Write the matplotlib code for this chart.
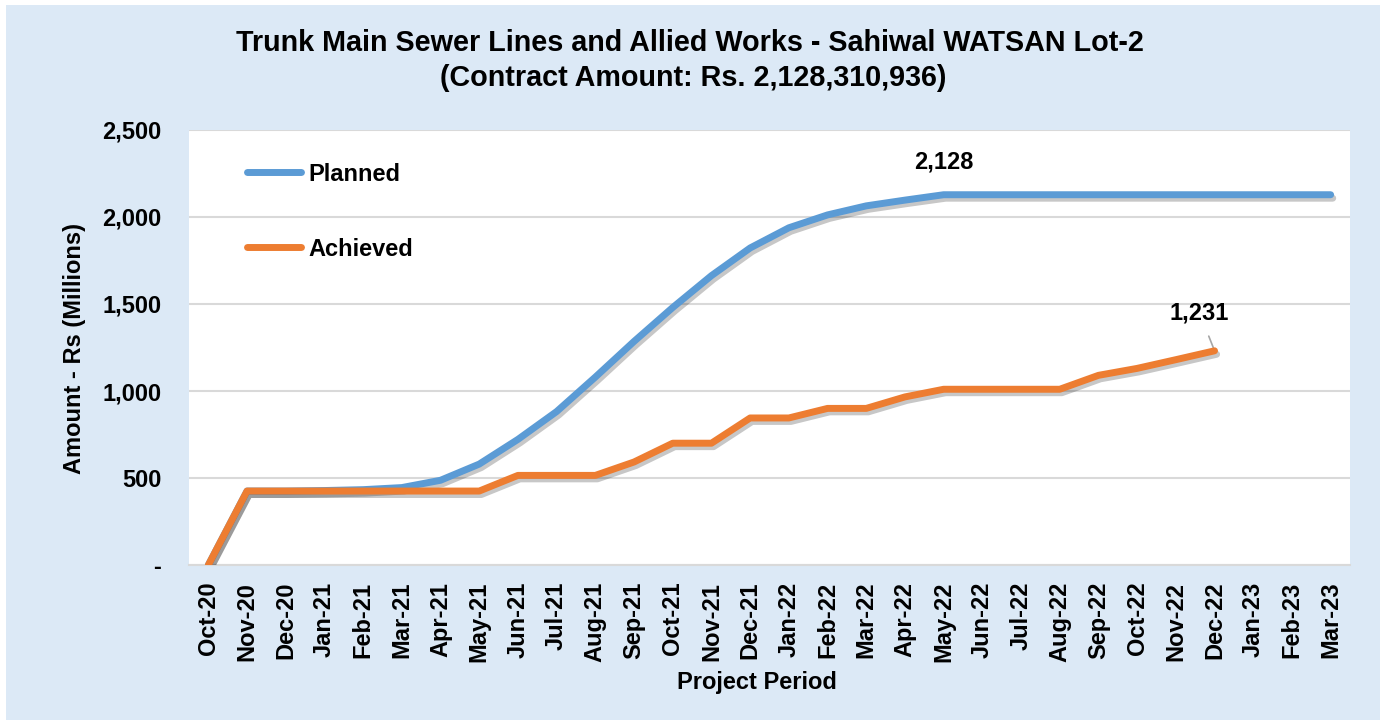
import matplotlib
matplotlib.use("Agg")
import matplotlib.pyplot as plt
import matplotlib.patheffects as pe
from matplotlib.patches import Rectangle
from matplotlib.ticker import FuncFormatter

# Chart data (Rs millions).
months = [
    "Oct-20", "Nov-20", "Dec-20", "Jan-21", "Feb-21", "Mar-21", "Apr-21",
    "May-21", "Jun-21", "Jul-21", "Aug-21", "Sep-21", "Oct-21", "Nov-21",
    "Dec-21", "Jan-22", "Feb-22", "Mar-22", "Apr-22", "May-22", "Jun-22",
    "Jul-22", "Aug-22", "Sep-22", "Oct-22", "Nov-22", "Dec-22", "Jan-23",
    "Feb-23", "Mar-23",
]
planned = [
    0, 425, 425, 428, 433, 445, 487, 580, 722, 882, 1080, 1285, 1480, 1663,
    1822, 1938, 2012, 2064, 2097, 2128, 2128, 2128, 2128, 2128, 2128, 2128,
    2128, 2128, 2128, 2128,
]
achieved = [
    0, 425, 425, 425, 425, 425, 425, 425, 515, 515, 515, 592, 700, 700,
    845, 845, 900, 900, 966, 1010, 1010, 1010, 1010, 1090, 1130, 1180, 1231,
]
y_ticks = [0, 500, 1000, 1500, 2000, 2500]

plt.rcParams["font.family"] = ["Liberation Sans", "DejaVu Sans"]
plt.rcParams["font.weight"] = "bold"

W, H = 1385, 725
fig = plt.figure(figsize=(W / 100, H / 100), dpi=100)
fig.patch.set_facecolor("white")

# light blue page background
fig.patches.append(Rectangle((6 / W, 1 - 720 / H), (1380 - 6) / W, (720 - 5) / H,
                             transform=fig.transFigure, facecolor="#dce9f6",
                             edgecolor="none", zorder=-10))

ax = fig.add_axes([189 / W, 1 - 565 / H, (1350 - 189) / W, (565 - 130) / H])
ax.set_facecolor("white")

x = list(range(len(months)))
shadow = [pe.SimpleLineShadow(offset=(1.5, -2.5), shadow_color="black", alpha=0.22),
          pe.Normal()]

ax.plot(x, planned, color="#5b9bd5", linewidth=5, solid_capstyle="round",
        solid_joinstyle="round", label="Planned", path_effects=shadow, zorder=3)
ax.plot(x[:len(achieved)], achieved, color="#ed7d31", linewidth=5,
        solid_capstyle="round", solid_joinstyle="round", label="Achieved",
        path_effects=shadow, zorder=4)

ax.set_xlim(-0.5, len(months) - 0.5)
ax.set_ylim(0, 2500)
ax.set_yticks(y_ticks)
ax.yaxis.set_major_formatter(FuncFormatter(lambda v, p: "-" if v == 0 else f"{v:,.0f}"))
ax.set_xticks(x)
ax.set_xticklabels(months, rotation=90)

ax.grid(axis="y", color="#d9d9d9", linewidth=1.5, zorder=0)
ax.set_axisbelow(True)
for side in ["top", "right", "left"]:
    ax.spines[side].set_visible(False)
ax.spines["bottom"].set_color("#d9d9d9")
ax.spines["bottom"].set_linewidth(1.5)
ax.tick_params(axis="both", length=0, labelsize=17)
ax.tick_params(axis="x", pad=12)
ax.tick_params(axis="y", pad=20)
for lbl in ax.get_xticklabels() + ax.get_yticklabels():
    lbl.set_fontweight("bold")

# data labels
ax.annotate(f"{planned[19]:,}", xy=(19, planned[19]), xytext=(0, 33),
            textcoords="offset pixels", ha="center", va="center",
            fontsize=17, fontweight="bold")
last = len(achieved) - 1
ax.annotate(f"{achieved[last]:,}", xy=(last, achieved[last]), xytext=(-15, 38),
            textcoords="offset pixels", ha="center", va="center",
            fontsize=17, fontweight="bold",
            arrowprops=dict(arrowstyle="-", color="#a6a6a6", linewidth=1.2,
                            shrinkA=7, shrinkB=1))

leg = ax.legend(loc="upper left", bbox_to_anchor=(0.05, 0.925), frameon=False,
                fontsize=17, handlelength=2.3, handletextpad=0.3,
                labelspacing=2.2, borderpad=0, borderaxespad=0)
for t in leg.get_texts():
    t.set_fontweight("bold")
for h in leg.get_lines():
    h.set_path_effects([])

fig.text(690 / W, 1 - 43 / H, "Trunk Main Sewer Lines and Allied Works - Sahiwal WATSAN Lot-2",
         ha="center", va="center", fontsize=20.7, fontweight="bold")
fig.text(693 / W, 1 - 78 / H, "(Contract Amount: Rs. 2,128,310,936)",
         ha="center", va="center", fontsize=20.7, fontweight="bold")
fig.text(757 / W, 1 - 683 / H, "Project Period", ha="center", va="center",
         fontsize=17, fontweight="bold")
fig.text(75 / W, 1 - 348 / H, "Amount - Rs (Millions)", ha="center", va="center",
         rotation=90, fontsize=17, fontweight="bold")

fig.savefig("out.png", dpi=100)
